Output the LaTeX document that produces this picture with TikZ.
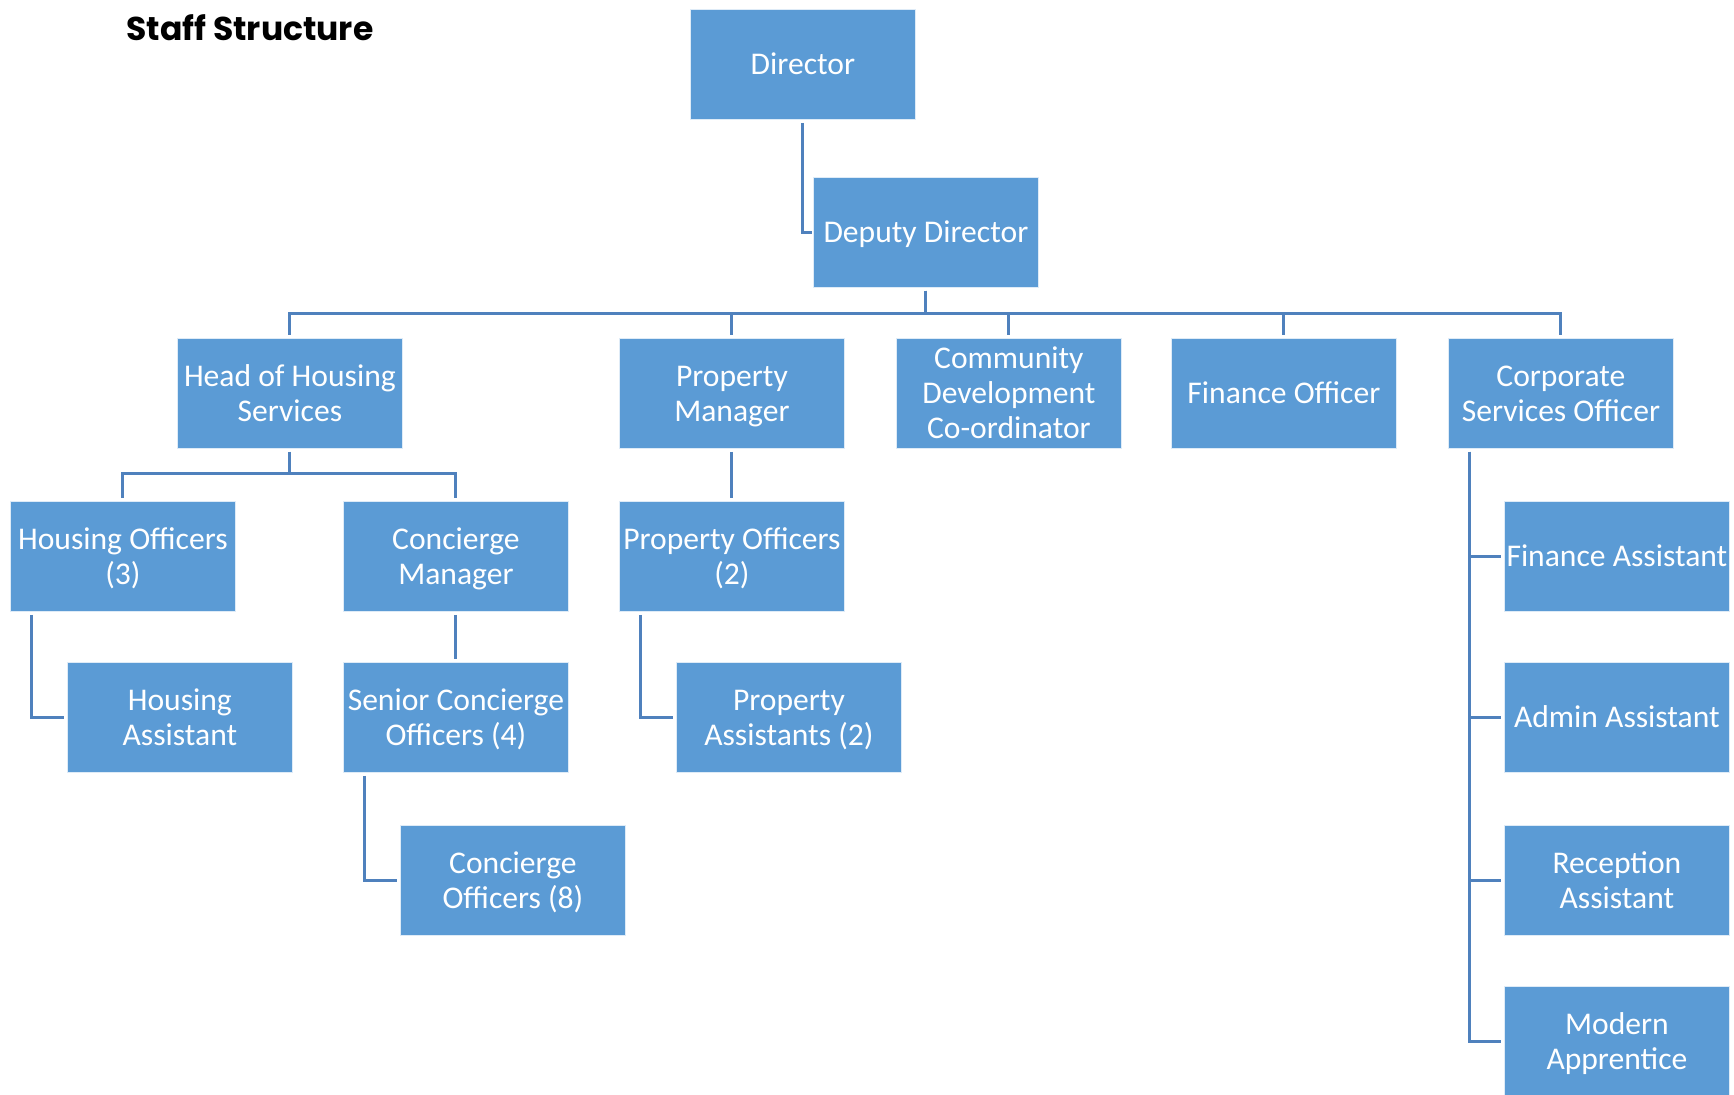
\documentclass[tikz,border=0pt]{standalone}
\usepackage{fontspec}
\setmainfont{Carlito}
\newfontfamily\titlefont{Poppins}[UprightFont=*-Bold]
\usetikzlibrary{calc}
\definecolor{boxblue}{HTML}{5B9BD5}
\definecolor{linkblue}{HTML}{4F81BD}
\newcommand{\bs}{\rule[-4pt]{0pt}{18.3pt}}
\tikzset{
  orgbox/.style={fill=boxblue, draw=white!80!boxblue, line width=0.4pt, text=white,
    minimum width=112.5pt, minimum height=55pt, inner sep=0pt, anchor=north west,
    align=center, font=\fontsize{15.8}{17.5}\selectfont,
    execute at end node=\bs},
  link/.style={draw=linkblue, line width=1.5pt}
}
\begin{document}
\begin{tikzpicture}[x=0.5pt,y=-0.5pt]
\fill[white] (0,0) rectangle (1734,1095);
\useasboundingbox (0,0) rectangle (1734,1095);
\node[anchor=base west, inner sep=0pt, font=\titlefont\fontsize{16.5}{19}\selectfont] (title) at (126,41) {Staff Structure};

% boxes
\node[orgbox] (dir) at (690,9) {\bs Director};
\node[orgbox] (dep) at (813,177) {\bs Deputy Director};
\node[orgbox] (head) at (177,338) {\bs Head of Housing\\Services};
\node[orgbox] (pm) at (619,338) {\bs Property\\Manager};
\node[orgbox] (cd) at (896,338) {\bs Community\\Development\\Co-ordinator};
\node[orgbox] (fo) at (1171,338) {\bs Finance Officer};
\node[orgbox] (cs) at (1448,338) {\bs Corporate\\Services Officer};
\node[orgbox] (ho) at (10,501) {\bs Housing Officers\\(3)};
\node[orgbox] (cm) at (343,501) {\bs Concierge\\Manager};
\node[orgbox] (po) at (619,501) {\bs Property Officers\\(2)};
\node[orgbox] (fa) at (1504,501) {\bs Finance Assistant};
\node[orgbox] (ha) at (67,662) {\bs Housing\\Assistant};
\node[orgbox] (sc) at (343,662) {\bs Senior Concierge\\Officers (4)};
\node[orgbox] (pa) at (676,662) {\bs Property\\Assistants (2)};
\node[orgbox] (aa) at (1504,662) {\bs Admin Assistant};
\node[orgbox] (co) at (400,825) {\bs Concierge\\Officers (8)};
\node[orgbox] (ra) at (1504,825) {\bs Reception\\Assistant};
\node[orgbox] (ma) at (1504,986) {\bs Modern\\Apprentice};

% connectors
\draw[link] ($(dir.south)+(0,3)$) |- ($(dep.west)+(-1,0)$);
\coordinate (bus1) at ($(dep.south)+(0,26)$);
\foreach \n in {head,pm,cd,fo,cs}{
  \draw[link] ($(dep.south)+(0,3)$) -- (bus1) -| ($(\n.north)+(0,-3)$);
}
\coordinate (bus2) at ($(head.south)+(0,25)$);
\foreach \n in {ho,cm}{
  \draw[link] ($(head.south)+(0,3)$) -- (bus2) -| ($(\n.north)+(0,-3)$);
}
\draw[link] ($(cm.south)+(0,3)$) -- ($(sc.north)+(0,-3)$);
\draw[link] ($(pm.south)+(0,3)$) -- ($(po.north)+(0,-3)$);
\draw[link] ($(ho.south west)+(21,3)$) |- ($(ha.west)+(-3,0)$);
\draw[link] ($(sc.south west)+(21,3)$) |- ($(co.west)+(-3,0)$);
\draw[link] ($(po.south west)+(21,3)$) |- ($(pa.west)+(-3,0)$);
\foreach \n in {fa,aa,ra,ma}{
  \draw[link] ($(cs.south west)+(21,3)$) |- ($(\n.west)+(-3,0)$);
}
\end{tikzpicture}
\end{document}
